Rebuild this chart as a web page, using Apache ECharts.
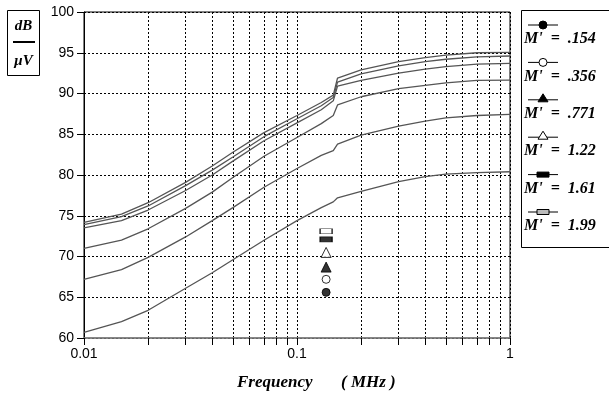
<!DOCTYPE html>
<html><head><meta charset="utf-8">
<script src="https://cdn.jsdelivr.net/npm/echarts@6/dist/echarts.min.js"></script>
<style>html,body{margin:0;padding:0;background:#fff}#c{width:609px;height:396px}</style>
</head><body><div id="c"></div>
<script>
const freq = [0.01,0.015,0.02,0.03,0.04,0.05,0.07,0.1,0.13,0.148,0.155,0.2,0.3,0.4,0.5,0.7,1];
const c154 = [74.2,75.2,76.6,79.1,81.1,82.8,85.2,87.3,88.9,89.8,91.9,92.9,93.9,94.4,94.7,95.0,95.05];
const c356 = [73.9,74.9,76.2,78.7,80.6,82.2,84.7,86.9,88.5,89.5,91.4,92.4,93.4,93.9,94.2,94.5,94.6];
const c771 = [73.5,74.4,75.7,78.1,80.0,81.7,84.2,86.4,88.0,89.1,90.9,91.6,92.5,93.0,93.3,93.6,93.7];
const c122 = [71.0,72.0,73.4,75.9,77.9,79.7,82.3,84.6,86.3,87.3,88.6,89.6,90.6,91.0,91.3,91.6,91.65];
const c161 = [67.2,68.4,69.9,72.4,74.4,76.0,78.5,80.8,82.4,83.0,83.8,84.9,86.0,86.6,87.0,87.3,87.45];
const c199 = [60.7,62.0,63.4,66.1,68.0,69.6,72.0,74.4,76.0,76.7,77.2,78.0,79.2,79.8,80.1,80.3,80.4];
const seriesNames = ["M'  =  .154","M'  =  .356","M'  =  .771","M'  =  1.22","M'  =  1.61","M'  =  1.99"];
const markerFreq = 0.137;
const markerVals = [65.6, 67.2, 68.7, 70.5, 72.1, 73.1];
const xLabelTicks = [0.01, 0.1, 1];
const xMinorTicks = [0.01,0.02,0.03,0.04,0.05,0.06,0.07,0.08,0.09,0.1,0.2,0.3,0.4,0.5,0.6,0.7,0.8,0.9,1];

const curves = [c154,c356,c771,c122,c161,c199];
const symbols = [
  {symbol:'circle', size:8, fill:'#000'},
  {symbol:'circle', size:8, fill:'#fff'},
  {symbol:'triangle', size:10, fill:'#000'},
  {symbol:'triangle', size:10, fill:'#fff'},
  {symbol:'rect', size:[12,5], fill:'#000'},
  {symbol:'rect', size:[12,5], fill:'#fff'}
];
const serif = '"Liberation Serif","DejaVu Serif",serif';
const sans = '"Liberation Sans",Arial,sans-serif';

const series = [];
curves.forEach((c,i)=>{
  series.push({type:'line', name:seriesNames[i], data:freq.map((f,j)=>[f,c[j]]),
    showSymbol:false, smooth:false, lineStyle:{color:'#555', width:1.3}, silent:true});
  series.push({type:'scatter', name:seriesNames[i], data:[[markerFreq, markerVals[i]]],
    symbol:symbols[i].symbol, symbolSize:symbols[i].size,
    itemStyle:{color:symbols[i].fill, borderColor:'#000', borderWidth:1}, z:5});
});

const legendEls = [{type:'rect', shape:{x:521.5,y:10.5,width:90,height:237}, style:{fill:'#fff', stroke:'#000', lineWidth:1}}];
seriesNames.forEach((n,i)=>{
  const y = 25 + i*37.4;
  legendEls.push({type:'line', shape:{x1:528,y1:y,x2:558,y2:y}, style:{stroke:'#000', lineWidth:1}});
  const s = symbols[i];
  if (s.symbol==='circle') legendEls.push({type:'circle', shape:{cx:543,cy:y,r:4}, style:{fill:s.fill, stroke:'#000', lineWidth:1}});
  if (s.symbol==='triangle') legendEls.push({type:'polygon', shape:{points:[[543,y-6],[548,y+2],[538,y+2]]}, style:{fill:s.fill, stroke:'#000', lineWidth:1}});
  if (s.symbol==='rect') legendEls.push({type:'rect', shape:{x:537,y:y-2.5,width:12,height:5}, style:{fill:i===5?'#bbb':'#000', stroke:'#000', lineWidth:1}});
  legendEls.push({type:'text', style:{x:524, y:y+14, text:n, font:'italic bold 16px '+serif, fill:'#000', textVerticalAlign:'middle'}});
});

const chart = echarts.init(document.getElementById('c'), null, {renderer:'canvas'});
chart.setOption({
  animation:false,
  backgroundColor:'#fff',
  grid:{left:84, right:99, top:12, bottom:58, show:true, borderColor:'#000', borderWidth:1, backgroundColor:'transparent'},
  xAxis:{type:'log', logBase:10, min:0.01, max:1,
    axisLine:{lineStyle:{color:'#888', width:1.5}},
    axisTick:{show:true, inside:false, length:7, lineStyle:{color:'#000'}, customValues:xMinorTicks},
    axisLabel:{color:'#000', fontFamily:sans, fontSize:14, margin:9, customValues:xLabelTicks,
      formatter:v=>String(v)},
    splitLine:{show:true, lineStyle:{color:'#000', type:[2,2], width:1}},
    minorTick:{show:false}
  },
  yAxis:{type:'value', min:60, max:100, interval:5,
    axisLine:{show:true, lineStyle:{color:'#000', width:1}},
    axisTick:{show:true, length:7, lineStyle:{color:'#000'}},
    axisLabel:{color:'#000', fontFamily:sans, fontSize:14, margin:10},
    splitLine:{show:true, lineStyle:{color:'#000', type:[2,2], width:1}}
  },
  series:series,
  graphic:[
    {type:'group', children:legendEls},
    {type:'rect', shape:{x:7.5,y:10.5,width:32,height:65}, style:{fill:'#fff', stroke:'#000', lineWidth:1}},
    {type:'text', style:{x:23.5, y:26, text:'dB', font:'italic bold 15px '+serif, fill:'#000', textAlign:'center', textVerticalAlign:'middle'}},
    {type:'line', shape:{x1:13,y1:42,x2:35,y2:42}, style:{stroke:'#000', lineWidth:2}},
    {type:'text', style:{x:23.5, y:61, text:'\u03bcV', font:'italic bold 15px '+serif, fill:'#000', textAlign:'center', textVerticalAlign:'middle'}},
    {type:'text', style:{x:237, y:383, text:'Frequency', font:'italic bold 17px '+serif, fill:'#000', textVerticalAlign:'middle'}},
    {type:'text', style:{x:341, y:383, text:'( MHz )', font:'italic bold 17px '+serif, fill:'#000', textVerticalAlign:'middle'}}
  ]
});
</script></body></html>
